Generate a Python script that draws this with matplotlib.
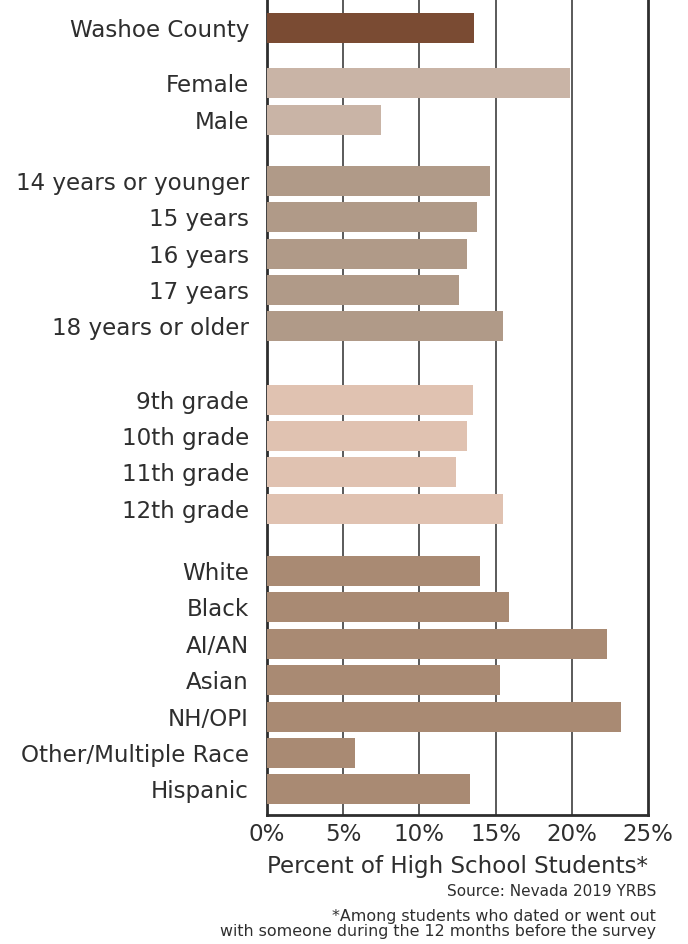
import matplotlib.pyplot as plt
import numpy as np

plt.rcParams['font.family'] = ['DejaVu Sans']

labels = ['Washoe County', 'Female', 'Male',
          '14 years or younger', '15 years', '16 years', '17 years', '18 years or older',
          '9th grade', '10th grade', '11th grade', '12th grade',
          'White', 'Black', 'AI/AN', 'Asian', 'NH/OPI', 'Other/Multiple Race', 'Hispanic']
values = [13.6, 19.9, 7.5,
          14.6, 13.8, 13.1, 12.6, 15.5,
          13.5, 13.1, 12.4, 15.5,
          14.0, 15.9, 22.3, 15.3, 23.2, 5.8, 13.3]
groups = [0, 1, 1, 2, 2, 2, 2, 2, 3, 3, 3, 3, 4, 4, 4, 4, 4, 4, 4]
group_colors = ['#7a4b33', '#c9b4a6', '#b09a88', '#e0c2b1', '#a98a73']

# row centres (pixel-ish units, top down)
ypos = [28, 83, 120, 181, 217, 254, 290, 326, 400, 436, 472, 509,
        571, 607, 644, 680, 717, 753, 789]

fig = plt.figure(figsize=(6.88, 9.44), dpi=100)
ax = fig.add_axes([267/688, 1 - 815/944, (648-267)/688, 815/944])

ax.barh(ypos, values, height=30, color=[group_colors[g] for g in groups], zorder=3)
ax.set_ylim(815, 0)
ax.set_xlim(0, 25)

for x in [5, 10, 15, 20]:
    ax.axvline(x, color='#4d4d4d', lw=1.3, zorder=1)

txt = '#2e2e2e'
ax.set_yticks(ypos)
ax.set_yticklabels(labels, fontsize=16.6, color=txt)
ax.set_xticks([0, 5, 10, 15, 20, 25])
ax.set_xticklabels(['0%', '5%', '10%', '15%', '20%', '25%'], fontsize=16.6, color=txt)
ax.tick_params(axis='y', length=0, pad=13)
ax.tick_params(axis='x', length=0, pad=6)
ax.spines['top'].set_visible(False)
for s in ['left', 'right', 'bottom']:
    ax.spines[s].set_linewidth(2)
    ax.spines[s].set_color(txt)

ax.set_xlabel('Percent of High School Students*', fontsize=16.6, color=txt, labelpad=6)

fig.text(656/688, 1 - 892/944, 'Source: Nevada 2019 YRBS', ha='right', va='center',
         fontsize=11, color=txt)
fig.text(656/688, 1 - 924/944,
         '*Among students who dated or went out\nwith someone during the 12 months before the survey',
         ha='right', va='center', fontsize=11.4, color=txt, linespacing=0.95)

fig.savefig('out.png', dpi=100)
